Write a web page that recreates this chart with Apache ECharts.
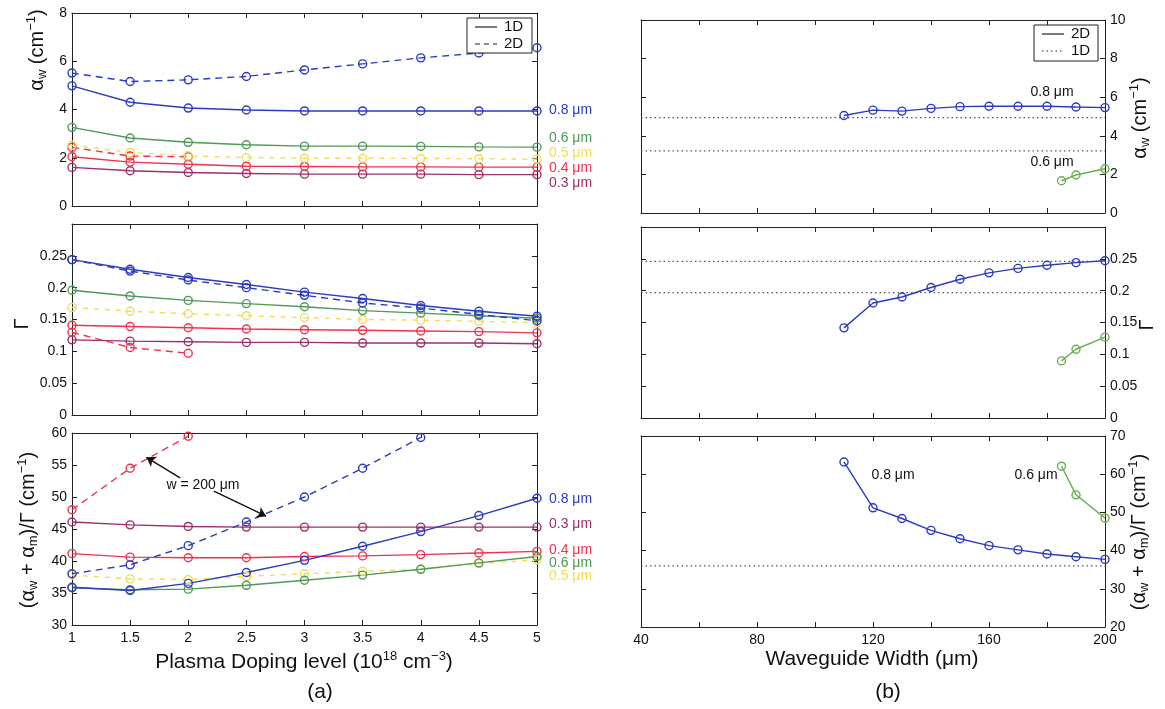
<!DOCTYPE html>
<html><head><meta charset="utf-8">
<script src="https://cdn.jsdelivr.net/npm/echarts@6/dist/echarts.min.js"></script>
<style>html,body{margin:0;padding:0;background:#fff}#c{width:1165px;height:709px}</style>
</head><body><div id="c"></div>
<script>
// ---------- data (a): vs plasma doping level ----------
const doping = [1, 1.5, 2, 2.5, 3, 3.5, 4, 4.5, 5];
const aw_08_1D = [4.98, 4.30, 4.06, 3.98, 3.94, 3.94, 3.94, 3.94, 3.94];
const aw_08_2D = [5.51, 5.16, 5.23, 5.37, 5.64, 5.89, 6.14, 6.34, 6.56];
const aw_06_1D = [3.26, 2.82, 2.64, 2.54, 2.48, 2.48, 2.47, 2.45, 2.44];
const aw_05_1D = [2.52, 2.22, 2.08, 2.01, 1.98, 1.98, 1.97, 1.96, 1.94];
const aw_04_1D = [2.04, 1.82, 1.73, 1.65, 1.64, 1.62, 1.62, 1.61, 1.61];
const aw_04_2D = [2.43, 2.07, 2.04];
const aw_03_1D = [1.60, 1.46, 1.39, 1.35, 1.32, 1.32, 1.32, 1.30, 1.30];

const g_08_1D = [0.244, 0.229, 0.216, 0.205, 0.193, 0.183, 0.172, 0.163, 0.155];
const g_08_2D = [0.244, 0.226, 0.212, 0.200, 0.188, 0.176, 0.168, 0.158, 0.148];
const g_06_1D = [0.196, 0.187, 0.180, 0.175, 0.170, 0.164, 0.160, 0.156, 0.152];
const g_05_1D = [0.169, 0.163, 0.159, 0.156, 0.153, 0.150, 0.149, 0.147, 0.145];
const g_04_1D = [0.141, 0.139, 0.137, 0.135, 0.134, 0.133, 0.132, 0.131, 0.129];
const g_04_2D = [0.130, 0.106, 0.097];
const g_03_1D = [0.118, 0.116, 0.115, 0.114, 0.114, 0.113, 0.113, 0.113, 0.112];

const r_08_1D = [35.9, 35.4, 36.5, 38.2, 40.1, 42.3, 44.6, 47.1, 49.8];
const r_08_2D = [38.0, 39.4, 42.4, 46.1, 50.0, 54.5, 59.3];
const r_06_1D = [35.8, 35.5, 35.6, 36.2, 37.0, 37.8, 38.7, 39.7, 40.7];
const r_05_1D = [37.8, 37.2, 37.1, 37.6, 38.0, 38.4, 38.7, 39.6, 40.2];
const r_04_1D = [41.15, 40.6, 40.5, 40.5, 40.7, 40.8, 41.0, 41.25, 41.5];
const r_04_2D = [48.0, 54.5, 59.5];
const r_03_1D = [46.1, 45.65, 45.4, 45.3, 45.3, 45.3, 45.3, 45.3, 45.3];
const arrows = [[[1.93, 53.0], [1.64, 56.2]], [[2.22, 50.9], [2.67, 47.0]]];

// ---------- data (b): vs waveguide width ----------
const width08 = [110, 120, 130, 140, 150, 160, 170, 180, 190, 200];
const aw_b08 = [5.05, 5.33, 5.28, 5.42, 5.51, 5.53, 5.53, 5.53, 5.49, 5.46];
const g_b08 = [0.1416, 0.1806, 0.190, 0.205, 0.218, 0.228, 0.235, 0.240, 0.244, 0.247];
const r_b08 = [63.2, 51.2, 48.4, 45.3, 43.1, 41.3, 40.2, 39.1, 38.4, 37.7];
const width06 = [185, 190, 200];
const aw_b06 = [1.67, 1.97, 2.29];
const g_b06 = [0.0897, 0.108, 0.127];
const r_b06 = [62.1, 54.6, 48.5];
const widthSpan = [40, 200];
const aw_ref1D = [4.94, 3.22];
const g_ref1D = [0.246, 0.197];
const r_ref1D = [36.0];

// ---------- styling ----------
const C = {b: '#2b3cc0', g: '#4f9a55', y: '#f1dc5a', r: '#f0334d', p: '#9e2e6c', gl: '#6aae50'};
const FONT = "'Liberation Sans', Arial, sans-serif";
const AX = '#222';
const grids = [
  {left: 72, top: 13, width: 465, height: 193},
  {left: 72, top: 224, width: 465, height: 191},
  {left: 72, top: 433, width: 465, height: 192},
  {left: 641, top: 20, width: 464, height: 193},
  {left: 641, top: 227, width: 464, height: 191},
  {left: 641, top: 436, width: 464, height: 191}
];
const xCfg = [
  {min: 1, max: 5, interval: 0.5, labels: false},
  {min: 1, max: 5, interval: 0.5, labels: false},
  {min: 1, max: 5, interval: 0.5, labels: true},
  {min: 40, max: 200, interval: 20, labels: false},
  {min: 40, max: 200, interval: 20, labels: false},
  {min: 40, max: 200, interval: 20, labels: true}
];
const yCfg = [
  {min: 0, max: 8, interval: 2, pos: 'left'},
  {min: 0, max: 0.3, interval: 0.05, pos: 'left', hideTop: true},
  {min: 30, max: 60, interval: 5, pos: 'left'},
  {min: 0, max: 10, interval: 2, pos: 'right'},
  {min: 0, max: 0.3, interval: 0.05, pos: 'right', hideTop: true},
  {min: 20, max: 70, interval: 10, pos: 'right'}
];
const tick = {inside: true, length: 5, lineStyle: {color: AX, width: 1}};
const aline = {onZero: false, lineStyle: {color: AX, width: 1}};
const xAxis = [], yAxis = [];
xCfg.forEach((c, g) => {
  xAxis.push({type: 'value', gridIndex: g, min: c.min, max: c.max, interval: c.interval, position: 'bottom',
    axisLine: aline, axisTick: tick, splitLine: {show: false},
    axisLabel: {show: c.labels, color: '#111', fontSize: 14, fontFamily: FONT, margin: 6,
      formatter: v => (g === 5 && (v - 40) % 40 !== 0) ? '' : String(+v.toFixed(2))}});
});
yCfg.forEach((c, g) => {
  yAxis.push({type: 'value', gridIndex: g, min: c.min, max: c.max, interval: c.interval, position: c.pos,
    axisLine: aline, axisTick: tick, splitLine: {show: false},
    axisLabel: {color: '#111', fontSize: 14, fontFamily: FONT, margin: 5,
      formatter: v => (c.hideTop && v > 0.29) ? '' : String(+v.toFixed(2))}});
});
xCfg.forEach((c, g) => {
  xAxis.push({type: 'value', gridIndex: g, min: c.min, max: c.max, interval: c.interval, position: 'top',
    axisLine: aline, axisTick: tick, splitLine: {show: false}, axisLabel: {show: false}});
});
yCfg.forEach((c, g) => {
  yAxis.push({type: 'value', gridIndex: g, min: c.min, max: c.max, interval: c.interval,
    position: c.pos === 'left' ? 'right' : 'left',
    axisLine: aline, axisTick: tick, splitLine: {show: false}, axisLabel: {show: false}});
});

const series = [];
function line(g, xs, ys, color, dash, extra) {
  const s = {type: 'line', xAxisIndex: g, yAxisIndex: g, animation: false,
    data: ys.map((v, i) => [xs[i], v]),
    symbol: 'circle', symbolSize: 8,
    lineStyle: {color: color, width: 1.4, type: dash || 'solid'},
    itemStyle: {color: 'rgba(0,0,0,0)', borderColor: color, borderWidth: 1.4}};
  return series.push(Object.assign(s, extra || {}));
}
function refLine(g, v) {
  series.push({type: 'line', xAxisIndex: g, yAxisIndex: g, animation: false, symbol: 'none',
    data: [[widthSpan[0], v], [widthSpan[1], v]],
    lineStyle: {color: '#555', width: 1.3, type: [1.5, 3]}});
}
const DASH = [7, 5];
const YD = [5, 6];
// panel (a) top
line(0, doping, aw_03_1D, C.p);
line(0, doping, aw_04_1D, C.r);
line(0, doping, aw_04_2D, C.r, DASH);
line(0, doping, aw_05_1D, C.y, YD);
line(0, doping, aw_06_1D, C.g);
line(0, doping, aw_08_1D, C.b);
line(0, doping, aw_08_2D, C.b, DASH);
// panel (a) middle
line(1, doping, g_03_1D, C.p);
line(1, doping, g_04_1D, C.r);
line(1, doping, g_04_2D, C.r, DASH);
line(1, doping, g_05_1D, C.y, YD);
line(1, doping, g_06_1D, C.g);
line(1, doping, g_08_1D, C.b);
line(1, doping, g_08_2D, C.b, DASH);
// panel (a) bottom
line(2, doping, r_03_1D, C.p);
line(2, doping, r_04_1D, C.r);
line(2, doping, r_05_1D, C.y, YD);
line(2, doping, r_06_1D, C.g);
line(2, doping, r_08_1D, C.b);
line(2, doping, r_08_2D, C.b, DASH);
line(2, doping, r_04_2D, C.r, DASH, {
  markLine: {silent: true, animation: false, symbol: ['none', 'arrow'], symbolSize: 9,
    label: {show: false}, lineStyle: {color: '#111', type: 'solid', width: 1.4},
    data: arrows.map(a => [{coord: a[0]}, {coord: a[1]}])}
});
// panel (b)
aw_ref1D.forEach(v => refLine(3, v));
g_ref1D.forEach(v => refLine(4, v));
r_ref1D.forEach(v => refLine(5, v));
line(3, width08, aw_b08, C.b);
line(3, width06, aw_b06, C.gl);
line(4, width08, g_b08, C.b);
line(4, width06, g_b06, C.gl);
line(5, width08, r_b08, C.b);
line(5, width06, r_b06, C.gl);

// ---------- text / annotations ----------
const rich = {
  n: {fontSize: 20, fontFamily: FONT, color: '#111', lineHeight: 26},
  nx: {fontSize: 21, fontFamily: FONT, color: '#111', lineHeight: 26},
  sb: {fontSize: 13, fontFamily: FONT, color: '#111', lineHeight: 26, padding: [11, 0, 0, 0]},
  sp: {fontSize: 13, fontFamily: FONT, color: '#111', lineHeight: 26, padding: [0, 0, 11, 0]}
};
function T(x, y, text, opts) {
  return Object.assign({type: 'text', x: x, y: y, silent: true,
    style: Object.assign({text: text, rich: rich, align: 'center', verticalAlign: 'middle',
      font: '20px ' + FONT, fill: '#111'}, (opts && opts.style) || {})},
    opts && opts.rotation ? {rotation: opts.rotation} : {});
}
const R = Math.PI / 2;
const awTitle = '{n|α}{sb|w}{n| (cm}{sp|−1}{n|)}';
const gTitle = '{n|Γ}';
const rTitle = '{n|(α}{sb|w}{n| + α}{sb|m}{n|)/Γ (cm}{sp|−1}{n|)}';
function small(x, y, text, color, align) {
  return {type: 'text', x: x, y: y, silent: true,
    style: {text: text, font: '14px ' + FONT, fill: color, align: align || 'left', verticalAlign: 'middle'}};
}
function legendBox(x, y, w, h, items) {
  const els = [{type: 'rect', shape: {x: x, y: y, width: w, height: h},
    style: {fill: '#fff', stroke: '#222', lineWidth: 1}, silent: true, z: 100}];
  items.forEach((it, i) => {
    const yy = y + 9 + i * 17;
    els.push({type: 'line', shape: {x1: x + 8, y1: yy, x2: x + 30, y2: yy}, silent: true, z: 101,
      style: {stroke: '#222', lineWidth: 1.2, lineDash: it.dash}});
    els.push({type: 'text', x: x + 37, y: yy, silent: true, z: 101,
      style: {text: it.t, font: '15px ' + FONT, fill: '#111', align: 'left', verticalAlign: 'middle'}});
  });
  return els;
}
const graphic = [
  T(37, 50, awTitle, {rotation: R}),
  T(22, 324, gTitle, {rotation: R}),
  T(28, 530, rTitle, {rotation: R}),
  T(1140, 118, awTitle, {rotation: R}),
  T(1147, 325, gTitle, {rotation: R}),
  T(1139, 532, rTitle, {rotation: R}),
  T(304, 662, '{nx|Plasma Doping level (10}{sp|18}{nx| cm}{sp|−3}{nx|)}'),
  T(872, 659, '{nx|Waveguide Width (μm)}'),
  T(320, 692, '{nx|(a)}'),
  T(888, 692, '{nx|(b)}'),
  small(549, 110, '0.8 μm', C.b), small(549, 138, '0.6 μm', C.g), small(549, 153, '0.5 μm', C.y),
  small(549, 168, '0.4 μm', C.r), small(549, 183, '0.3 μm', C.p),
  small(549, 499, '0.8 μm', C.b), small(549, 524, '0.3 μm', C.p), small(549, 550, '0.4 μm', C.r),
  small(549, 563, '0.6 μm', C.g), small(549, 576, '0.5 μm', C.y),
  small(203, 485, 'w = 200 μm', '#111', 'center'),
  small(1052, 92, '0.8 μm', '#111', 'center'), small(1052, 162, '0.6 μm', '#111', 'center'),
  small(893, 475, '0.8 μm', '#111', 'center'), small(1036, 475, '0.6 μm', '#111', 'center')
].concat(legendBox(467, 18, 65, 35, [{t: '1D', dash: null}, {t: '2D', dash: [5, 4]}]))
 .concat(legendBox(1034, 25, 64, 36, [{t: '2D', dash: null}, {t: '1D', dash: [1.5, 3]}]));

const chart = echarts.init(document.getElementById('c'), null, {renderer: 'canvas'});
chart.setOption({animation: false, backgroundColor: '#fff', grid: grids, xAxis: xAxis, yAxis: yAxis,
  series: series, graphic: graphic});
</script></body></html>
